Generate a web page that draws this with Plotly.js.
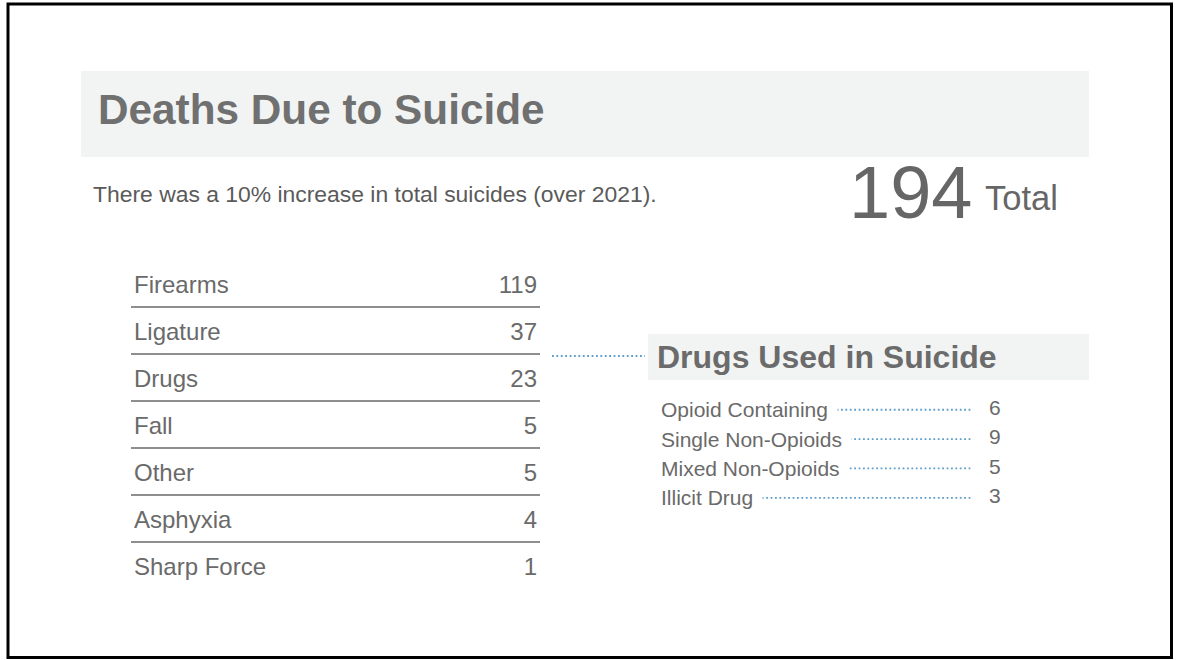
<!DOCTYPE html>
<html>
<head>
<meta charset="utf-8">
<script src="https://cdn.plot.ly/plotly-3.0.1.min.js"></script>
<style>html,body{margin:0;padding:0;background:#fff;}#chart{width:1178px;height:660px;}</style>
</head>
<body>
<div id="chart"></div>
<script>
// ---- data ----
const causes = ["Firearms", "Ligature", "Drugs", "Fall", "Other", "Asphyxia", "Sharp Force"];
const causeCounts = [119, 37, 23, 5, 5, 4, 1];
const drugTypes = ["Opioid Containing", "Single Non-Opioids", "Mixed Non-Opioids", "Illicit Drug"];
const drugCounts = [6, 9, 5, 3];
const titleText = "Deaths Due to Suicide";
const subtitleText = "There was a 10% increase in total suicides (over 2021).";
const drugTitleText = "Drugs Used in Suicide";
const totalLabel = "Total";

// ---- layout helpers ----
const W = 1178, H = 660;
const px = x => x / W;
const py = y => (H - y) / H;
const FONT = "Liberation Sans, Arial, Helvetica, sans-serif";
const TXT = "#6a6a6a";
const BLUE = "#5e9ecb";
const BAND = "#f2f4f4";
const total = causeCounts.reduce((a, b) => a + b, 0);

// drug list x-axis mapping (domain 650..1010 px)
const D0 = 650, D1 = 1010;
const fx = x => (x - D0) / (D1 - D0);

// table row geometry: 47.05 px per row; text axis shifted slightly below the rule axis
const ROW = 47.05;
const TXT_SHIFT = 4 / ROW;

const traces = [
  // invisible trace that anchors the ruled (gridline) category axis
  {
    type: "scatter", mode: "markers", xaxis: "x", yaxis: "y",
    x: causes.map(() => 0.5), y: causes,
    marker: {size: 1, opacity: 0}, hoverinfo: "skip", showlegend: false
  },
  {
    type: "scatter", mode: "text", xaxis: "x", yaxis: "y3",
    x: causes.map(() => 0.0073), y: causes, text: causes,
    textposition: "middle right",
    textfont: {family: FONT, size: 24, color: TXT},
    hoverinfo: "skip", showlegend: false, cliponaxis: false
  },
  {
    type: "scatter", mode: "text", xaxis: "x", yaxis: "y3",
    x: causes.map(() => 0.9927), y: causes, text: causeCounts.map(String),
    textposition: "middle left",
    textfont: {family: FONT, size: 24, color: TXT},
    hoverinfo: "skip", showlegend: false, cliponaxis: false
  },
  {
    type: "scatter", mode: "lines", xaxis: "x2", yaxis: "y2",
    x: drugTypes.flatMap(() => [fx(665), fx(972), null]),
    y: drugTypes.flatMap(d => [d, d, null]),
    line: {color: BLUE, width: 1.8, dash: "1.8px,2.6px"},
    hoverinfo: "skip", showlegend: false, cliponaxis: false
  },
  {
    type: "scatter", mode: "text", xaxis: "x2", yaxis: "y2",
    x: drugTypes.map(() => fx(989)), y: drugTypes, text: drugCounts.map(String),
    textposition: "middle right",
    textfont: {family: FONT, size: 21, color: TXT},
    hoverinfo: "skip", showlegend: false, cliponaxis: false
  }
];

const annotations = [
  {xref: "paper", yref: "paper", x: px(96), y: py(110), xanchor: "left", yanchor: "middle",
   text: "<b>" + titleText + "</b>", showarrow: false,
   font: {family: FONT, size: 42.3, color: "#707070"}},
  {xref: "paper", yref: "paper", x: px(91), y: py(194), xanchor: "left", yanchor: "middle",
   text: subtitleText, showarrow: false,
   font: {family: FONT, size: 22.9, color: "#5a5a5a"}},
  {xref: "paper", yref: "paper", x: px(847), y: py(192), xanchor: "left", yanchor: "middle",
   text: String(total), showarrow: false,
   font: {family: FONT, size: 74, color: "#666666"}},
  {xref: "paper", yref: "paper", x: px(983), y: py(198), xanchor: "left", yanchor: "middle",
   text: totalLabel, showarrow: false,
   font: {family: FONT, size: 34.5, color: "#666666"}},
  {xref: "paper", yref: "paper", x: px(655), y: py(357), xanchor: "left", yanchor: "middle",
   text: "<b>" + drugTitleText + "</b>", showarrow: false,
   font: {family: FONT, size: 32, color: "#6b6b6b"}}
].concat(drugTypes.map((d, i) => ({
  xref: "x2", yref: "y2", x: fx(657), y: i, xanchor: "left", yanchor: "middle",
  text: d + "\u00a0", showarrow: false, bgcolor: "#ffffff", borderpad: 3,
  font: {family: FONT, size: 21, color: TXT}
})));

const shapes = [
  {type: "rect", xref: "paper", yref: "paper", x0: px(81), x1: px(1089), y0: py(157), y1: py(71),
   fillcolor: BAND, line: {width: 0}, layer: "below"},
  {type: "rect", xref: "paper", yref: "paper", x0: px(648), x1: px(1089), y0: py(380), y1: py(334),
   fillcolor: BAND, line: {width: 0}, layer: "below"},
  {type: "line", xref: "paper", yref: "paper", x0: px(552), x1: px(645), y0: py(356), y1: py(356),
   line: {color: BLUE, width: 1.8, dash: "1.8px,2.6px"}},
  {type: "rect", xref: "paper", yref: "paper", x0: px(8), x1: px(1171.5), y0: py(657.5), y1: py(4),
   fillcolor: "rgba(0,0,0,0)", line: {color: "#000", width: 3}}
];

const tableDomain = [py(591.35), py(264.355)];
const hiddenAxis = {showgrid: false, zeroline: false, showline: false, showticklabels: false, ticks: "", fixedrange: true};

const layout = {
  width: W, height: H,
  margin: {l: 0, r: 0, t: 0, b: 0, pad: 0},
  paper_bgcolor: "#ffffff", plot_bgcolor: "rgba(0,0,0,0)",
  showlegend: false,
  xaxis: Object.assign({domain: [px(131), px(540)], range: [0, 1]}, hiddenAxis),
  yaxis: {domain: tableDomain, type: "category",
          categoryorder: "array", categoryarray: causes, range: [6.55, -0.4],
          tickson: "boundaries", showgrid: true, gridcolor: "#8e8e8e", gridwidth: 2,
          zeroline: false, showline: false, showticklabels: false, ticks: "", fixedrange: true},
  yaxis3: Object.assign({domain: tableDomain, type: "category", overlaying: "y", anchor: "x",
          categoryorder: "array", categoryarray: causes,
          range: [6.55 - TXT_SHIFT, -0.4 - TXT_SHIFT]}, hiddenAxis),
  xaxis2: Object.assign({domain: [px(D0), px(D1)], range: [0, 1], anchor: "y2"}, hiddenAxis),
  yaxis2: Object.assign({domain: [py(512.5), py(395.1)], type: "category", anchor: "x2",
           categoryorder: "array", categoryarray: drugTypes, range: [3.5, -0.5]}, hiddenAxis),
  annotations: annotations,
  shapes: shapes
};

Plotly.newPlot("chart", traces, layout, {staticPlot: true, displayModeBar: false});
</script>
</body>
</html>
